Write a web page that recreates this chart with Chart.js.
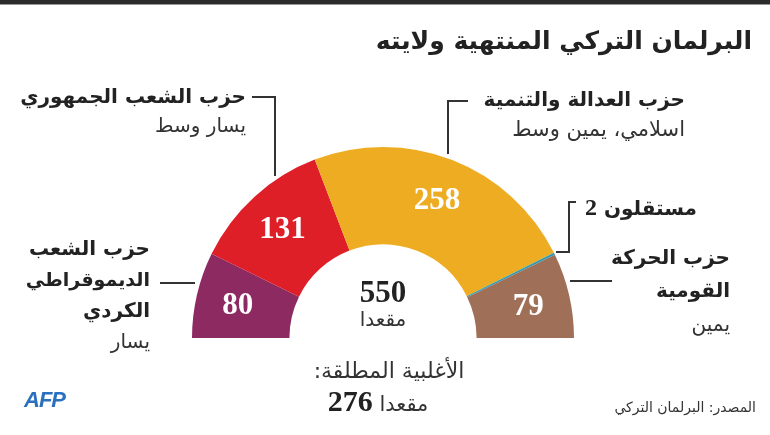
<!DOCTYPE html>
<html lang="ar">
<head>
  <meta charset="UTF-8" />
  <title>البرلمان التركي المنتهية ولايته</title>
  <script src="https://cdn.jsdelivr.net/npm/chart.js"></script>
  <style>
    body { margin: 0; background: #fff; }
    #wrap { position: relative; width: 770px; height: 435px; overflow: hidden; font-family: "DejaVu Sans", sans-serif; color: #222; }
    #chart { position: absolute; left: 0; top: 0; }
    .topbar { position: absolute; left: 0; top: 0; width: 770px; height: 4px; background: #2b2b2b; border-bottom: 1px solid #999; }
    .t { position: absolute; white-space: nowrap; line-height: 1; }
    .rtl { direction: rtl; text-align: right; }
    .b { font-weight: bold; }
    .reg { color: #333; }
    .num { font-family: "Liberation Serif", "DejaVu Serif", serif; font-weight: bold; }
    .ln { position: absolute; background: #333; }
  </style>
</head>
<body>
  <div id="wrap">
    <canvas id="chart" width="770" height="435"></canvas>
    <div class="topbar"></div>

    <div class="t rtl b" style="right:18px; top:28px; font-size:25px;">البرلمان التركي المنتهية ولايته</div>

    <!-- labels -->
    <div class="t rtl b" style="right:524px; top:86px; font-size:20px;">حزب الشعب الجمهوري</div>
    <div class="t rtl reg" style="right:524px; top:115px; font-size:20px;">يسار وسط</div>

    <div class="t rtl b" style="right:85px; top:89px; font-size:20px;">حزب العدالة والتنمية</div>
    <div class="t rtl reg" style="right:85px; top:119px; font-size:21px;">اسلامي، يمين وسط</div>

    <div class="t rtl b" style="right:73px; top:195px; font-size:20px;">مستقلون <span class="num" style="font-size:24px;">2</span></div>

    <div class="t rtl b" style="right:40px; top:247px; font-size:20px;">حزب الحركة</div>
    <div class="t rtl b" style="right:40px; top:280px; font-size:20px;">القومية</div>
    <div class="t rtl reg" style="right:40px; top:314px; font-size:20px;">يمين</div>

    <div class="t rtl b" style="right:620px; top:238px; font-size:20px;">حزب الشعب</div>
    <div class="t rtl b" style="right:620px; top:270px; font-size:19px;">الديموقراطي</div>
    <div class="t rtl b" style="right:620px; top:300px; font-size:20px;">الكردي</div>
    <div class="t rtl reg" style="right:620px; top:331px; font-size:20px;">يسار</div>

    <div class="t num" style="left:283px; width:200px; text-align:center; top:276px; font-size:31px;">550</div>
    <div class="t reg" style="left:283px; width:200px; text-align:center; top:309px; font-size:20px;" dir="rtl">مقعدا</div>

    <div class="t reg" style="left:289px; width:200px; text-align:center; top:360px; font-size:22px;" dir="rtl">الأغلبية المطلقة:</div>
    <div class="t" style="left:278px; width:200px; text-align:center; top:386px; font-size:21px;" dir="ltr"><span class="num" style="font-size:30px;">276</span> <span class="reg">مقعدا</span></div>

    <div class="t rtl reg" style="right:14px; top:400px; font-size:14px;">المصدر: البرلمان التركي</div>
    <div class="t" style="left:24px; top:389px; font-size:22px; font-weight:900; font-style:italic; color:#2a70bf; font-family:'Liberation Sans', sans-serif; letter-spacing:-1px;">AFP</div>

    <!-- connector lines -->
    <div class="ln" style="left:252px; top:96px; width:23px; height:1.5px;"></div>
    <div class="ln" style="left:274px; top:96px; width:1.5px; height:80px;"></div>

    <div class="ln" style="left:447px; top:100px; width:21px; height:1.5px;"></div>
    <div class="ln" style="left:447px; top:100px; width:1.5px; height:54px;"></div>

    <div class="ln" style="left:568px; top:201px; width:8px; height:1.5px;"></div>
    <div class="ln" style="left:568px; top:201px; width:1.5px; height:52px;"></div>
    <div class="ln" style="left:556px; top:251px; width:13px; height:1.5px;"></div>

    <div class="ln" style="left:570px; top:280px; width:42px; height:1.5px;"></div>

    <div class="ln" style="left:160px; top:282px; width:35px; height:1.5px;"></div>
  </div>

  <script>
    const parties = ['HDP', 'CHP', 'AKP', 'مستقلون', 'MHP'];
    const seats = [80, 131, 258, 2, 79];
    const colors = ['#8e2a62', '#df1f28', '#eeac22', '#2a9db5', '#a06f57'];

    // white seat numbers inside the arcs (small slices are labelled outside)
    const seatLabels = {
      id: 'seatLabels',
      afterDatasetsDraw(chart) {
        const ctx = chart.ctx;
        const meta = chart.getDatasetMeta(0);
        ctx.save();
        ctx.fillStyle = '#fff';
        ctx.font = 'bold 31px "Liberation Serif", "DejaVu Serif", serif';
        ctx.textAlign = 'center';
        ctx.textBaseline = 'middle';
        meta.data.forEach((arc, i) => {
          if (seats[i] < 10) return;
          const p = arc.getProps(['x', 'y', 'startAngle', 'endAngle', 'innerRadius', 'outerRadius'], true);
          const mid = (p.startAngle + p.endAngle) / 2;
          const r = p.innerRadius + 0.57 * (p.outerRadius - p.innerRadius);
          ctx.fillText(String(seats[i]), p.x + Math.cos(mid) * r, p.y + Math.sin(mid) * r + 2);
        });
        ctx.restore();
      }
    };

    new Chart(document.getElementById('chart'), {
      type: 'doughnut',
      data: {
        labels: parties,
        datasets: [{
          data: seats,
          backgroundColor: colors,
          borderWidth: 0
        }]
      },
      options: {
        responsive: false,
        animation: false,
        rotation: -90,
        circumference: 180,
        cutout: '49%',
        layout: { padding: { left: 192, right: 196, top: 147, bottom: 97 } },
        plugins: {
          legend: { display: false },
          tooltip: { enabled: false }
        }
      },
      plugins: [seatLabels]
    });
  </script>
</body>
</html>
